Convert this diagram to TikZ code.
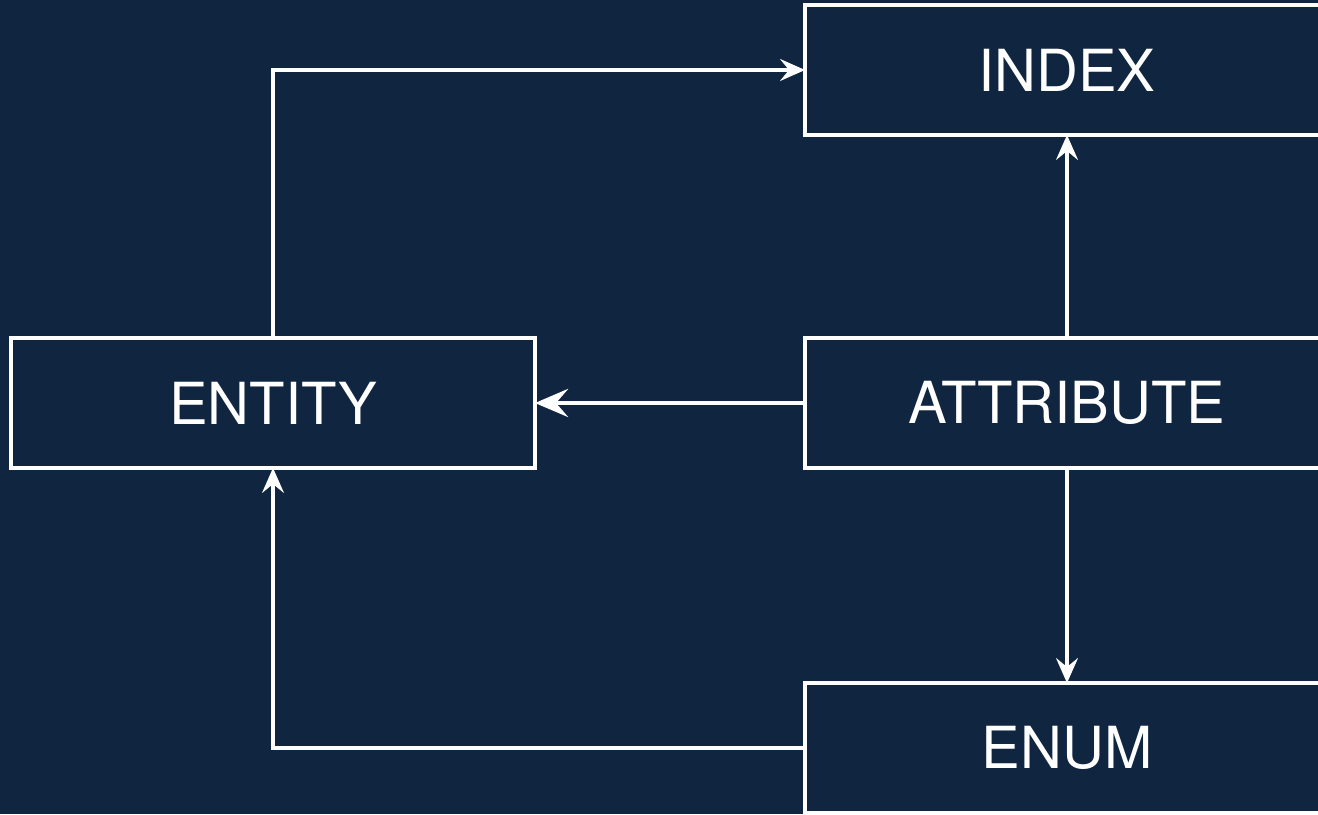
\documentclass[tikz,border=0pt]{standalone}
\usepackage{fontspec}
\setmainfont{TeX Gyre Heros}
\usetikzlibrary{arrows.meta,positioning}
\definecolor{navy}{RGB}{16,37,64}
\tikzset{
  box/.style={draw=white,line width=1.8pt,minimum width=10.48cm,minimum height=2.6cm,
    text=white,font=\fontsize{33}{36}\selectfont,inner sep=0pt,outer sep=0pt},
  link/.style={draw=white,line width=1.8pt,-{Stealth[length=5mm,width=4.4mm,inset=1.8mm]}},
  biglink/.style={link,line width=2.8pt,-{Stealth[length=6.6mm,width=5.6mm,inset=2.4mm]}}
}
\begin{document}
\begin{tikzpicture}
                \fill[navy] (0,0) rectangle (26.36,16.28);
                \clip (0,0) rectangle (26.36,16.28);
                %% boxes
                \node[box] (entity) at (5.46,8.22) {ENTITY};
                \node[box,right=5.4cm of entity] (attribute) {ATTRIBUTE};
                \node[box,above=4.06cm of attribute] (index) {INDEX};
                \node[box,below=4.3cm of attribute] (enum) {ENUM};
                %% links
                \draw[link] (entity.north) |- (index.west);
                \draw[link] (attribute.north) -- (index.south);
                \draw[biglink] (attribute.west) -- (entity.east);
                \draw[link] (attribute.south) -- (enum.north);
                \draw[link] (enum.west) -| (entity.south);
            \end{tikzpicture}
\end{document}
